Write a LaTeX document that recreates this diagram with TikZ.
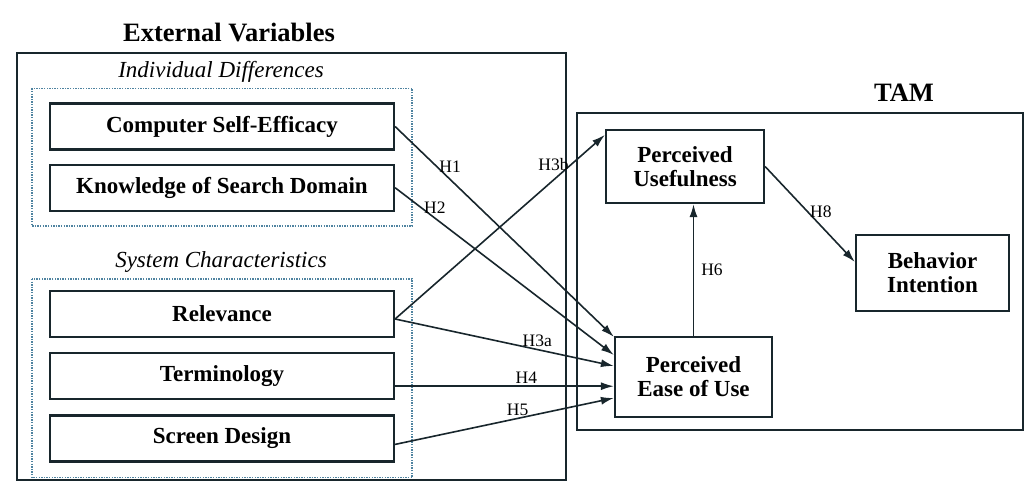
\documentclass[tikz,border=0pt]{standalone}
\usepackage{fontspec}
\setmainfont{Liberation Serif}
\usetikzlibrary{arrows.meta, positioning, calc}
\definecolor{boxline}{HTML}{18262C}
\definecolor{dotline}{HTML}{4F83A0}

\begin{document}
\begin{tikzpicture}[
		x=1pt, y=-1pt,
		node distance=13pt and 16pt,
		>={Latex[length=13pt, width=8pt]},
		construct/.style={draw=boxline, line width=2.2pt, fill=white, align=center, inner sep=2pt, font=\fontsize{23}{24}\selectfont\bfseries},
		factorbox/.style={construct, minimum width=344pt, minimum height=46pt},
		frame/.style    ={draw=boxline, line width=2.2pt},
		groupbox/.style ={draw=dotline, line width=1.6pt, dash pattern=on 1.4pt off 1.2pt},
		title/.style    ={font=\fontsize{26.5}{28}\selectfont\bfseries, inner sep=1pt},
		grouplab/.style ={font=\fontsize{23}{24}\selectfont\itshape, inner sep=1pt},
		hyp/.style      ={->, line width=1.6pt, draw=boxline},
		hlab/.style     ={font=\fontsize{17.5}{18}\selectfont, inner sep=2pt}
		]
		
		\useasboundingbox (0,0) rectangle (1028,482);
		
		% --- Frames and titles ---
		\draw[frame] (17,53) rectangle (566,480);
		\draw[frame] (577,113) rectangle (1023,430);
		\node[title] (extlab) at (229,33) {External Variables};
		\node[title] (tamlab) at (904,93) {TAM};
		
		% --- Individual differences ---
		\node[factorbox] (cse) at (222,126.5)   {Computer Self-Efficacy};
		\node[factorbox, below=of cse] (ksd)    {Knowledge of Search Domain};
		\draw[groupbox] ($(cse.north west)+(-17,-14)$) rectangle ($(ksd.south east)+(17,14)$);
		\node[grouplab] (idlab) at (221,72) {Individual Differences};
		
		% --- System characteristics ---
		\node[factorbox] (rel) at (222,314)          {Relevance};
		\node[factorbox, below=14pt of rel]  (term)  {Terminology};
		\node[factorbox, below=14pt of term] (sd)    {Screen Design};
		\draw[groupbox] ($(rel.north west)+(-17,-11)$) rectangle ($(sd.south east)+(17,15)$);
		\node[grouplab] (sclab) at (221,262) {System Characteristics};
		
		% --- TAM constructs ---
		\node[construct, minimum width=158pt, minimum height=73pt] (pu)   at (685,166.5) {Perceived\\Usefulness};
		\node[construct, minimum width=157pt, minimum height=80pt] (peou) at (693.5,377) {Perceived\\Ease of Use};
		\node[construct, minimum width=153pt, minimum height=76pt] (bi)   at (932.5,273) {Behavior\\Intention};
		
		% --- Hypotheses ---
		\draw[hyp] (cse.east) -- node[hlab, pos=0.19, anchor=west] (h1) {H1} ([yshift=-1pt]peou.north west);
		\draw[hyp] (ksd.east) -- node[hlab, pos=0.12, anchor=west] (h2) {H2} ([yshift=22pt]peou.west);
		\draw[hyp] ([yshift=-5pt]rel.east) -- node[hlab, pos=0.84, anchor=east] (h3b) {H3b} ([yshift=-6pt]pu.north west);
		\draw[hyp] ([yshift=-5pt]rel.east) -- node[hlab, pos=0.65, anchor=south] (h3a) {H3a} ([yshift=11pt]peou.west);
		
		\coordinate (termout) at ([yshift=-10pt]term.east);
		\draw[hyp] (termout) -- node[hlab, pos=0.6, anchor=south] (h4) {H4} (termout -| peou.west);
		\draw[hyp] ([yshift=-6pt]sd.east) -- node[hlab, pos=0.56, anchor=south] (h5) {H5} ([yshift=-21pt]peou.west);
		
		\draw[hyp] (peou.north) -- node[hlab, anchor=west, xshift=5pt] (h6) {H6} (peou.north |- pu.south);
		\draw[hyp] (pu.east) -- node[hlab, pos=0.47, anchor=west] (h8) {H8} ([yshift=11pt]bi.west);
		
	\end{tikzpicture}
\end{document}
